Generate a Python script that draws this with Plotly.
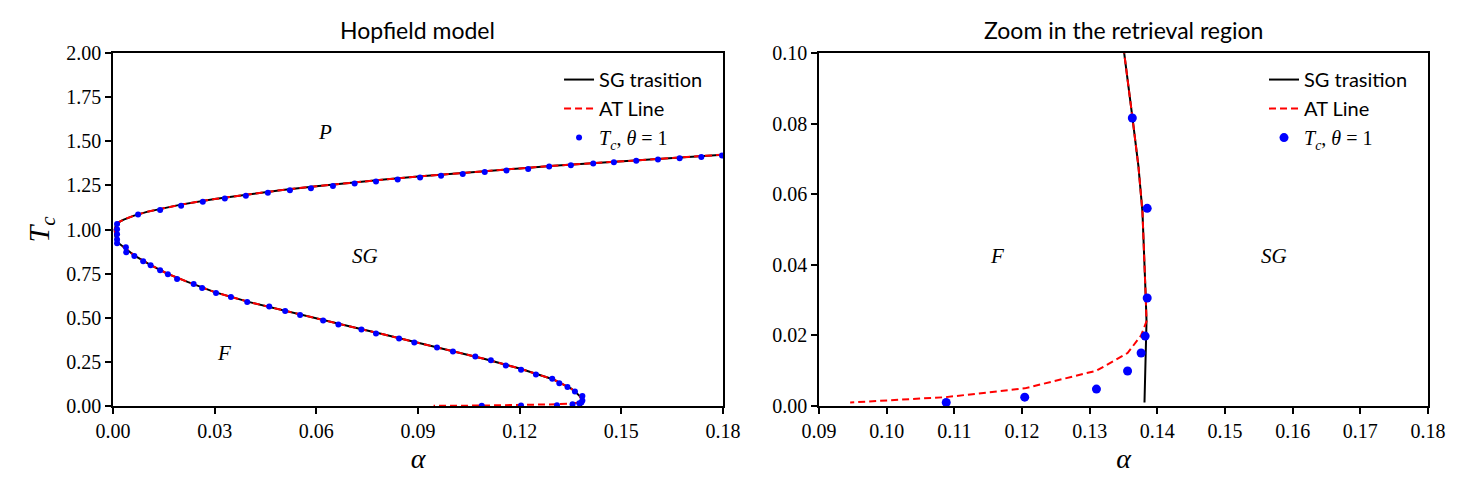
import plotly.graph_objects as go
from plotly.subplots import make_subplots

# SG transition line (upper P-SG branch, then the lower F-SG branch down to T=0)
sg_alpha = [0.18, 0.17, 0.16, 0.15, 0.14, 0.13, 0.12, 0.11, 0.10, 0.09, 0.08, 0.07,
            0.06, 0.05, 0.04, 0.03, 0.02, 0.015, 0.01, 0.006, 0.003, 0.0015, 0.0009,
            0.0005, 0.0007, 0.0015, 0.004, 0.0065, 0.011, 0.016, 0.022, 0.030, 0.040,
            0.050, 0.060, 0.070, 0.080, 0.090, 0.100, 0.110, 0.120, 0.125, 0.130,
            0.1325, 0.1351, 0.1363, 0.1372, 0.1378, 0.1381, 0.1383, 0.1384,
            0.1383, 0.1381, 0.1381]
sg_T = [1.424, 1.412, 1.400, 1.387, 1.374, 1.361, 1.346, 1.332, 1.316, 1.300, 1.283, 1.265,
        1.245, 1.224, 1.200, 1.173, 1.141, 1.122, 1.100, 1.077, 1.055, 1.039, 1.030,
        1.000, 0.960, 0.925, 0.888, 0.850, 0.800, 0.750, 0.703, 0.645, 0.590,
        0.542, 0.495, 0.450, 0.405, 0.358, 0.310, 0.265, 0.212, 0.182, 0.150,
        0.125, 0.100, 0.082, 0.068, 0.055, 0.042, 0.030, 0.024,
        0.016, 0.008, 0.001]

# AT line: follows the SG line, then bends to low alpha near T=0
at_split = 51
at_tail_alpha = [0.1376, 0.1356, 0.1310, 0.1204, 0.1087, 0.0946]
at_tail_T = [0.020, 0.015, 0.010, 0.005, 0.0025, 0.001]
at_alpha = sg_alpha[:at_split] + at_tail_alpha
at_T = sg_T[:at_split] + at_tail_T

# Tc points for theta = 1
dot_alpha = [0.1797, 0.1736, 0.1672, 0.1608, 0.1544, 0.1478, 0.1417, 0.1351, 0.1287,
             0.1225, 0.1161, 0.1097, 0.1032, 0.0968, 0.0906, 0.0840, 0.0776, 0.0713,
             0.0649, 0.0584, 0.0522, 0.0457, 0.0392, 0.0330, 0.0265, 0.0201, 0.0139,
             0.0074,
             0.0012, 0.0012, 0.0012, 0.0012, 0.0012,
             0.0038, 0.0039, 0.0063, 0.0089, 0.0111, 0.0139, 0.0162, 0.0189, 0.0238,
             0.0263, 0.0304, 0.0348, 0.0396, 0.0461, 0.0508, 0.0552, 0.0620, 0.0665,
             0.0733, 0.0776, 0.0844, 0.0889, 0.0956, 0.1003, 0.1069, 0.1115, 0.1159,
             0.1204, 0.1248, 0.1296, 0.1317, 0.1341, 0.1363, 0.1385, 0.1385, 0.1382,
             0.1376, 0.1356, 0.1310, 0.1204, 0.1088]
dot_T = [1.419, 1.411, 1.404, 1.396, 1.389, 1.381, 1.374, 1.364, 1.357,
         1.343, 1.334, 1.326, 1.315, 1.304, 1.294, 1.283, 1.272, 1.260,
         1.247, 1.234, 1.223, 1.208, 1.191, 1.175, 1.157, 1.134, 1.111,
         1.085,
         1.031, 1.001, 0.973, 0.944, 0.922,
         0.900, 0.871, 0.850, 0.820, 0.797, 0.769, 0.746, 0.720, 0.691,
         0.669, 0.640, 0.617, 0.589, 0.564, 0.538, 0.515, 0.485, 0.462,
         0.434, 0.411, 0.383, 0.360, 0.331, 0.309, 0.280, 0.259, 0.229,
         0.206, 0.178, 0.155, 0.129, 0.108, 0.0816, 0.0560, 0.0306, 0.0198,
         0.0150, 0.0099, 0.0048, 0.0025, 0.0010]

# region labels: (text, alpha, T)
left_labels = [("P", 0.06, 1.50), ("SG", 0.07, 0.80), ("F", 0.03, 0.25)]
right_labels = [("F", 0.115, 0.04), ("SG", 0.155, 0.04)]

left_xticks = [0.0, 0.03, 0.06, 0.09, 0.12, 0.15, 0.18]
left_yticks = [0.0, 0.25, 0.5, 0.75, 1.0, 1.25, 1.5, 1.75, 2.0]
right_xticks = [0.09, 0.10, 0.11, 0.12, 0.13, 0.14, 0.15, 0.16, 0.17, 0.18]
right_yticks = [0.0, 0.02, 0.04, 0.06, 0.08, 0.10]

SERIF = "Liberation Serif, DejaVu Serif, serif"
SANS = "Lato, DejaVu Sans, sans-serif"

tc_name = ('<span style="font-family:Liberation Serif"><i>T<sub>c</sub></i>, '
           '<i>θ</i> = 1</span>')

fig = make_subplots(rows=1, cols=2, horizontal_spacing=0.07)

for col, legend_name, msize in [(1, "legend", 6), (2, "legend2", 9)]:
    fig.add_trace(go.Scatter(
        x=sg_alpha, y=sg_T, mode="lines", name="SG trasition",
        line=dict(color="black", width=2), legend=legend_name,
    ), row=1, col=col)
    fig.add_trace(go.Scatter(
        x=at_alpha, y=at_T, mode="lines", name="AT Line",
        line=dict(color="red", width=2, dash="7px,4px"), legend=legend_name,
    ), row=1, col=col)
    fig.add_trace(go.Scatter(
        x=dot_alpha, y=dot_T, mode="markers", name=tc_name,
        marker=dict(color="blue", size=msize, line=dict(width=0)), legend=legend_name,
    ), row=1, col=col)

axis_style = dict(
    showline=True, linecolor="black", linewidth=1.5, mirror=True,
    ticks="outside", ticklen=6, tickwidth=1.5, tickcolor="black",
    showgrid=False, zeroline=False, tickformat=".2f",
    tickfont=dict(family=SERIF, size=20, color="black"),
)

fig.update_xaxes(axis_style)
fig.update_yaxes(axis_style)

alpha_title = dict(text="<i>α</i>", font=dict(family=SERIF, size=28, color="black"), standoff=8)
fig.update_xaxes(domain=[0.0, 0.4639], range=[0, 0.18], tickvals=left_xticks,
                 title=alpha_title, row=1, col=1)
fig.update_yaxes(range=[0, 2.0], tickvals=left_yticks,
                 title=dict(text="<i>T<sub>c</sub></i>",
                            font=dict(family=SERIF, size=30, color="black"), standoff=8),
                 row=1, col=1)
fig.update_xaxes(domain=[0.5369, 1.0], range=[0.09, 0.18], tickvals=right_xticks,
                 title=alpha_title, row=1, col=2)
fig.update_yaxes(range=[0, 0.10], tickvals=right_yticks, row=1, col=2)

annotations = []
for text, a, t in left_labels:
    annotations.append(dict(x=a, y=t, xref="x", yref="y", text="<i>%s</i>" % text,
                            showarrow=False, xanchor="left", yanchor="bottom", yshift=-5,
                            font=dict(family=SERIF, size=21, color="black")))
for text, a, t in right_labels:
    annotations.append(dict(x=a, y=t, xref="x2", yref="y2", text="<i>%s</i>" % text,
                            showarrow=False, xanchor="left", yanchor="bottom", yshift=-5,
                            font=dict(family=SERIF, size=21, color="black")))
annotations.append(dict(x=0.2319, y=1.0, xref="paper", yref="paper", text="Hopfield model",
                        showarrow=False, xanchor="center", yanchor="bottom", yshift=7,
                        font=dict(family=SANS, size=23, color="black")))
annotations.append(dict(x=0.7685, y=1.0, xref="paper", yref="paper",
                        text="Zoom in the retrieval region",
                        showarrow=False, xanchor="center", yanchor="bottom", yshift=7,
                        font=dict(family=SANS, size=23, color="black")))

legend_style = dict(
    xanchor="right", yanchor="top", bgcolor="rgba(0,0,0,0)", borderwidth=0,
    font=dict(family=SANS, size=20, color="black"), tracegroupgap=0,
)

# page body has an 8px margin, so the figure is sized 8px short of the window
fig.update_layout(
    width=1462, height=493,
    margin=dict(l=105, r=42, t=45, b=95),
    paper_bgcolor="white", plot_bgcolor="white",
    annotations=annotations,
    legend=dict(legend_style, x=0.4525, y=0.98),
    legend2=dict(legend_style, x=0.9886, y=0.98),
    showlegend=True,
)

fig.write_html("out.html")
